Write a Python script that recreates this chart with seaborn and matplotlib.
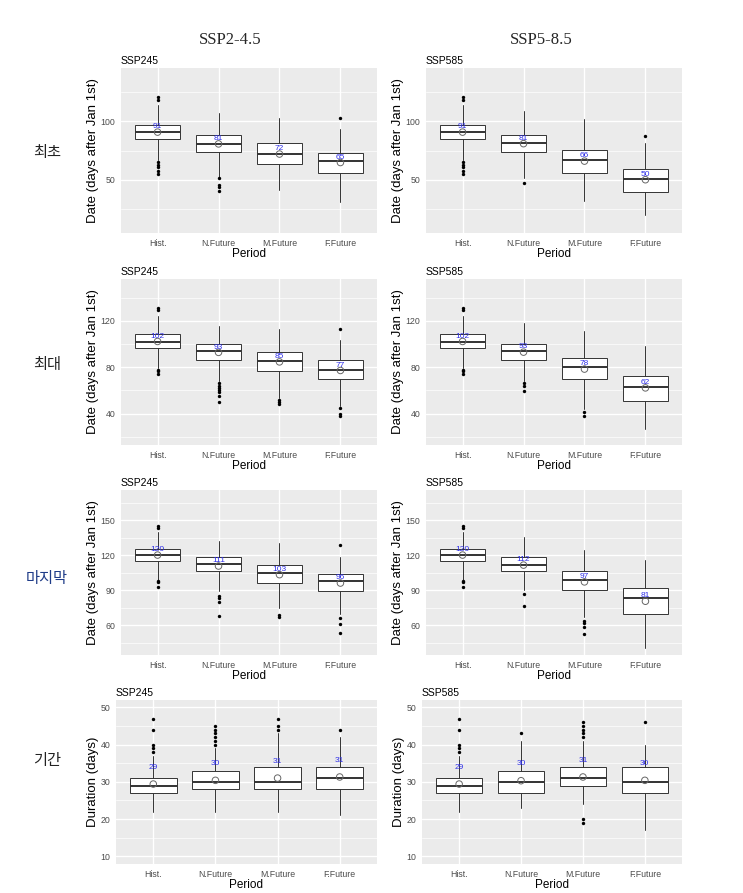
import numpy as np
import pandas as pd
import matplotlib
matplotlib.use("Agg")
import matplotlib.pyplot as plt
import seaborn as sns
from matplotlib.ticker import FixedLocator

periods = ["Hist.", "N.Future", "M.Future", "F.Future"]
scenarios = ["SSP245", "SSP585"]
headers = ["SSP2-4.5", "SSP5-8.5"]
row_names = ["최초", "최대", "마지막", "기간"]

# box stats per period: [whisker low, q1, median, q3, whisker high, mean]
first_245 = [[67, 84.5, 90.7, 96.9, 113.6, 90.6],
             [52.5, 74, 80.8, 87.9, 107, 80.6],
             [41.5, 63.8, 72.3, 81, 102.3, 72.0],
             [31.4, 55.6, 65.8, 72.6, 93, 64.8]]
first_245_out = [[120, 118, 65, 63, 61, 58, 55], [51.4, 45.8, 43.8, 41], [], [103]]

first_585 = [[67, 84.5, 90.7, 96.9, 113.6, 90.6],
             [51.4, 74, 81, 87.9, 108.8, 80.8],
             [32.5, 55.6, 67, 75.7, 101.7, 66.0],
             [20.3, 40, 50.8, 59, 81, 50.2]]
first_585_out = [[120, 118, 65, 63, 61, 58, 55], [47.7], [], [87.3]]

peak_245 = [[79.3, 96.5, 101.9, 108.8, 123.7, 102.2],
            [67.8, 86.4, 94.2, 99.9, 115.1, 92.8],
            [53.5, 76.9, 85, 93, 112.8, 84.6],
            [46.3, 69.8, 77.8, 86.4, 103.7, 77.2]]
peak_245_out = [[131, 129.5, 78, 77, 74],
                [66.4, 64.1, 62.1, 60.1, 58.4, 54.9, 49.8],
                [52, 49.8, 48.3],
                [112.8, 44.9, 40, 37.7]]

peak_585 = [[79.3, 96.5, 101.9, 108.8, 123.7, 102.2],
            [67.8, 86.4, 94.2, 99.9, 118, 93.0],
            [44, 70.1, 79.9, 87.6, 110.8, 78.4],
            [26.8, 50.6, 62.7, 72.1, 97.9, 62.2]]
peak_585_out = [[131, 129.5, 78, 77, 74], [66.4, 63.5, 59.8], [41.1, 37.7], []]

last_245 = [[99, 115.3, 120.2, 125.6, 139.7, 120.2],
            [89, 106.2, 112.2, 118.2, 132.5, 110.8],
            [74.6, 96.1, 104.7, 111.3, 130.5, 103.4],
            [69.8, 89, 97.9, 104.2, 118.2, 96.2]]
last_245_out = [[145.4, 143.4, 98.1, 97, 92.4],
                [85.2, 83.2, 79.8, 68],
                [68.9, 67.5],
                [129.1, 66, 60.9, 53.2]]

last_585 = [[99, 115.3, 120.2, 125.6, 139.7, 120.2],
            [90.4, 106.2, 111.9, 118.2, 135.4, 111.6],
            [67.5, 90.4, 99, 106.2, 124.8, 97.2],
            [40.3, 69.8, 83.2, 91.8, 116.2, 80.6]]
last_585_out = [[145.4, 143.4, 98.1, 97, 92.4], [87, 76.1], [64, 61.8, 58.9, 52.6], []]

dur_245 = [[22, 27, 29, 31, 37, 29.4],
           [22, 28, 30, 33, 39, 30.4],
           [22, 28, 30, 34, 43, 31.0],
           [21, 28, 31, 34, 42, 31.3]]
dur_245_out = [[47, 44, 40, 39, 38],
               [45, 44, 43, 42, 41, 40],
               [47, 45, 44],
               [44]]

dur_585 = [[22, 27, 29, 31, 37, 29.4],
           [23, 27, 30, 33, 41, 30.3],
           [24, 29, 31, 34, 41, 31.3],
           [17, 27, 30, 34, 40, 30.4]]
dur_585_out = [[47, 44, 40, 39, 38],
               [43],
               [46, 45, 44, 43, 42, 20, 19],
               [46]]

panels = [
    (first_245, first_245_out, first_585, first_585_out, "Date (days after Jan 1st)",
     (5, 145), [50, 100], [25, 75, 125]),
    (peak_245, peak_245_out, peak_585, peak_585_out, "Date (days after Jan 1st)",
     (13, 156), [40, 80, 120], [20, 60, 100, 140]),
    (last_245, last_245_out, last_585, last_585_out, "Date (days after Jan 1st)",
     (34.5, 176), [60, 90, 120, 150], [45, 75, 105, 135, 165]),
    (dur_245, dur_245_out, dur_585, dur_585_out, "Duration (days)",
     (7.9, 52), [10, 20, 30, 40, 50], [15, 25, 35, 45]),
]

sns.set_theme(style="darkgrid", rc={"axes.facecolor": "#EBEBEB", "grid.color": "white"})
plt.rcParams["font.family"] = ["Liberation Sans", "Noto Sans CJK KR"]

W, H = 743, 893
fig = plt.figure(figsize=(W / 100, H / 100), dpi=100)
fig.patch.set_facecolor("white")

row_y = [(68, 233), (279, 445), (490, 655), (700, 864)]
col_x = [[(121, 377), (426, 682)], [(121, 377), (426, 682)],
         [(121, 377), (426, 682)], [(116, 377), (422, 682)]]


def draw_panel(ax, box, out, title, ylab, ylim, major, minor):
    stats = [dict(whislo=b[0], q1=b[1], med=b[2], q3=b[3], whishi=b[4], fliers=[])
             for b in box]
    ax.bxp(stats, positions=range(4), widths=0.75, showfliers=False, showcaps=False,
           patch_artist=True,
           boxprops=dict(facecolor="white", edgecolor="#333333", linewidth=0.7),
           medianprops=dict(color="#333333", linewidth=1.4),
           whiskerprops=dict(color="#333333", linewidth=0.7))
    fl = pd.DataFrame([(i, v) for i, vals in enumerate(out) for v in vals],
                      columns=["x", "y"])
    if len(fl):
        sns.scatterplot(data=fl, x="x", y="y", ax=ax, color="black", s=6,
                        linewidth=0, zorder=4)
    means = pd.DataFrame({"x": range(4), "y": [b[5] for b in box]})
    ax.scatter(means["x"], means["y"], s=22, facecolors="none",
               edgecolors="#666666", linewidths=0.7, zorder=5)
    for i, m in enumerate(means["y"]):
        ax.text(i, m + 4.5, f"{int(round(m))}", color="#2F2FE8", fontsize=6,
                ha="center", va="center", zorder=6)
    ax.set_xlim(-0.6, 3.6)
    ax.set_ylim(*ylim)
    ax.set_xticks(range(4))
    ax.set_xticklabels(periods)
    ax.yaxis.set_major_locator(FixedLocator(major))
    ax.yaxis.set_minor_locator(FixedLocator(minor))
    ax.grid(which="major", color="white", linewidth=1.0)
    ax.grid(which="minor", axis="y", color="white", linewidth=0.5)
    ax.tick_params(axis="both", which="major", length=2.5, width=0.6, color="#333333",
                   labelsize=6.3, labelcolor="#4D4D4D", pad=1.5)
    ax.tick_params(axis="both", which="minor", length=0)
    for s in ax.spines.values():
        s.set_visible(False)
    ax.set_xlabel("Period", fontsize=8.5, labelpad=0, color="black")
    ax.set_ylabel(ylab, fontsize=9.5, labelpad=1, color="black")
    ax.set_title(title, loc="left", fontsize=7.5, pad=3, color="black")


for r, (b245, o245, b585, o585, ylab, ylim, major, minor) in enumerate(panels):
    y0, y1 = row_y[r]
    for c, (box, out) in enumerate([(b245, o245), (b585, o585)]):
        x0, x1 = col_x[r][c]
        ax = fig.add_axes([x0 / W, 1 - y1 / H, (x1 - x0) / W, (y1 - y0) / H])
        draw_panel(ax, box, out, scenarios[c], ylab, ylim, major, minor)

for c, (txt, x) in enumerate(zip(headers, [230, 541])):
    fig.text(x / W, 1 - 40 / H, txt, ha="center", va="center", fontsize=12,
             family="Liberation Serif")

label_y = [152, 365, 578, 760]
label_colors = ["#222222", "#222222", "#1F3C88", "#222222"]
for name, y, col in zip(row_names, label_y, label_colors):
    fig.text(47 / W, 1 - y / H, name, ha="center", va="center", fontsize=11,
             color=col, family=["Noto Sans CJK KR", "DejaVu Sans"])

fig.savefig("out.png", dpi=100, facecolor="white")
